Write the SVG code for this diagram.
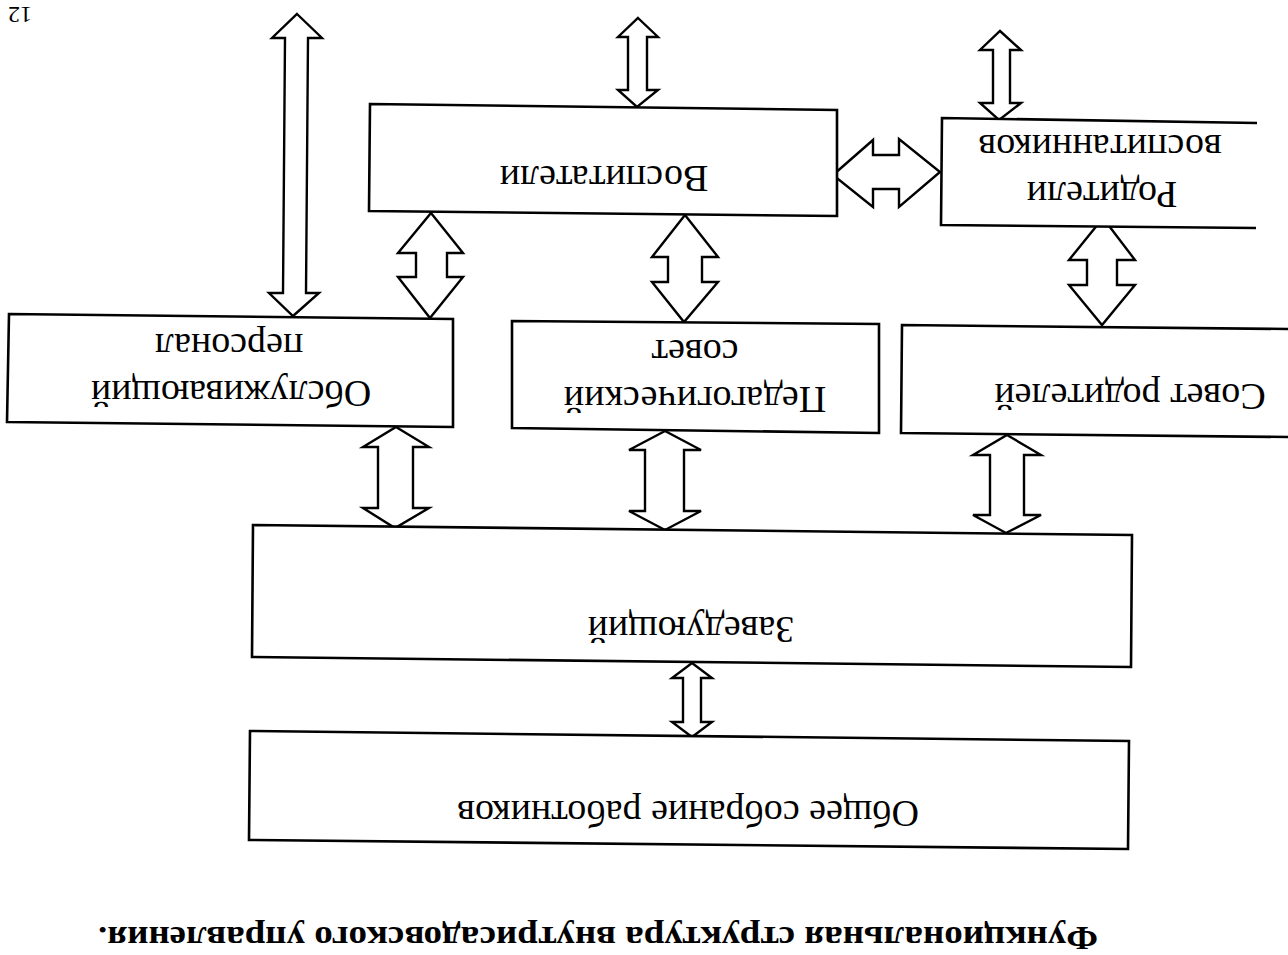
<svg xmlns="http://www.w3.org/2000/svg" width="1288" height="955" viewBox="0 0 1288 955">
<style>
.box{fill:#fff;stroke:#000;stroke-width:2.6;stroke-linejoin:miter}
.arr{fill:#fff;stroke:#000;stroke-width:2.4;stroke-linejoin:miter}
.t{font-family:"Liberation Serif","Times New Roman",serif;font-size:38px;fill:#000;text-anchor:middle}
.title{font-family:"Liberation Serif","Times New Roman",serif;font-size:34px;font-weight:bold;fill:#000;text-anchor:middle}
.pg{font-family:"Liberation Serif","Times New Roman",serif;font-size:24px;fill:#000;text-anchor:middle}
</style>
<rect width="1288" height="955" fill="#fff"/>
<g id="connectors">
<polygon class="arr" points="297,14 322,38 308,38 306,293 319,293 293,316 269,293 283,293 285,38 272,38"/>
<polygon class="arr" points="431,213 463,253 447,253 447,277 463,277 430,318 398,277 416,277 416,253 398,253"/>
<polygon class="arr" points="685,215 718,257 702,257 702,282 718,282 684,322 652,282 668,282 668,257 652,257"/>
<polygon class="arr" points="638,18 658,37 647,37 647,90 658,90 637,107 618,90 628,90 628,37 618,37"/>
<polygon class="arr" points="833,175 873,140 873,155 899,155 899,139 940,172 899,207 899,189 873,189 873,207"/>
<polygon class="arr" points="1000,31 1021,50 1010,50 1010,103 1021,103 999,120 980,103 993,103 993,50 980,50"/>
<polygon class="arr" points="1103,218 1135,260 1117,260 1117,285 1135,285 1102,325 1069,285 1087,285 1087,260 1069,260"/>
<polygon class="arr" points="396,427 429,447 413,447 413,508 429,508 395,528 363,508 378,508 378,447 363,447"/>
<polygon class="arr" points="665,431 701,450 684,450 684,511 701,511 665,530 629,511 645,511 645,450 629,450"/>
<polygon class="arr" points="1007,435 1041,455 1024,455 1024,515 1041,515 1006,533 973,515 990,515 990,455 973,455"/>
<polygon class="arr" points="692,663 712,678 701,678 701,722 712,722 692,737 672,722 683,722 683,678 672,678"/>
</g>
<g id="vospitateli">
<polygon class="box" points="370,104 837,110 837,216 369,211"/>
<text class="t" x="604" y="166" transform="rotate(180 604 166)">Воспитатели</text>
</g>
<g id="roditeli">
<path class="box" d="M1257,123 L942,118 L941,225 L1256,228"/>
<text class="t" x="1102" y="182" transform="rotate(180 1102 182)">Родители</text>
<text class="t" x="1100" y="135" transform="rotate(180 1100 135)">воспитанников</text>
</g>
<g id="obsluzh">
<polygon class="box" points="9,314 453,319 453,427 7,422"/>
<text class="t" x="231" y="381" transform="rotate(180 231 381)">Обслуживающий</text>
<text class="t" x="229" y="334" transform="rotate(180 229 334)">персонал</text>
</g>
<g id="pedsovet">
<polygon class="box" points="512,321 879,324 879,433 512,428"/>
<text class="t" x="695" y="387" transform="rotate(180 695 387)">Педагогический</text>
<text class="t" x="695" y="340" transform="rotate(180 695 340)">совет</text>
</g>
<g id="sovet-roditeley">
<path class="box" d="M1288,329 L902,325 L901,433 L1288,437"/>
<text class="t" x="1130" y="384" transform="rotate(180 1130 384)">Совет родителей</text>
</g>
<g id="zaveduyushchiy">
<polygon class="box" points="253,525 1132,535 1131,667 252,657"/>
<text class="t" x="691" y="617" transform="rotate(180 691 617)">Заведующий</text>
</g>
<g id="obshchee">
<polygon class="box" points="250,731 1129,741 1128,849 249,840"/>
<text class="t" x="688" y="801" transform="rotate(180 688 801)">Общее собрание работников</text>
</g>
<text class="title" x="598" y="927" transform="rotate(180 598 927)" textLength="1000" lengthAdjust="spacingAndGlyphs">Функциональная структура внутрисадовского управления.</text>
<text class="pg" x="20" y="7" transform="rotate(180 20 7)">12</text>
</svg>
